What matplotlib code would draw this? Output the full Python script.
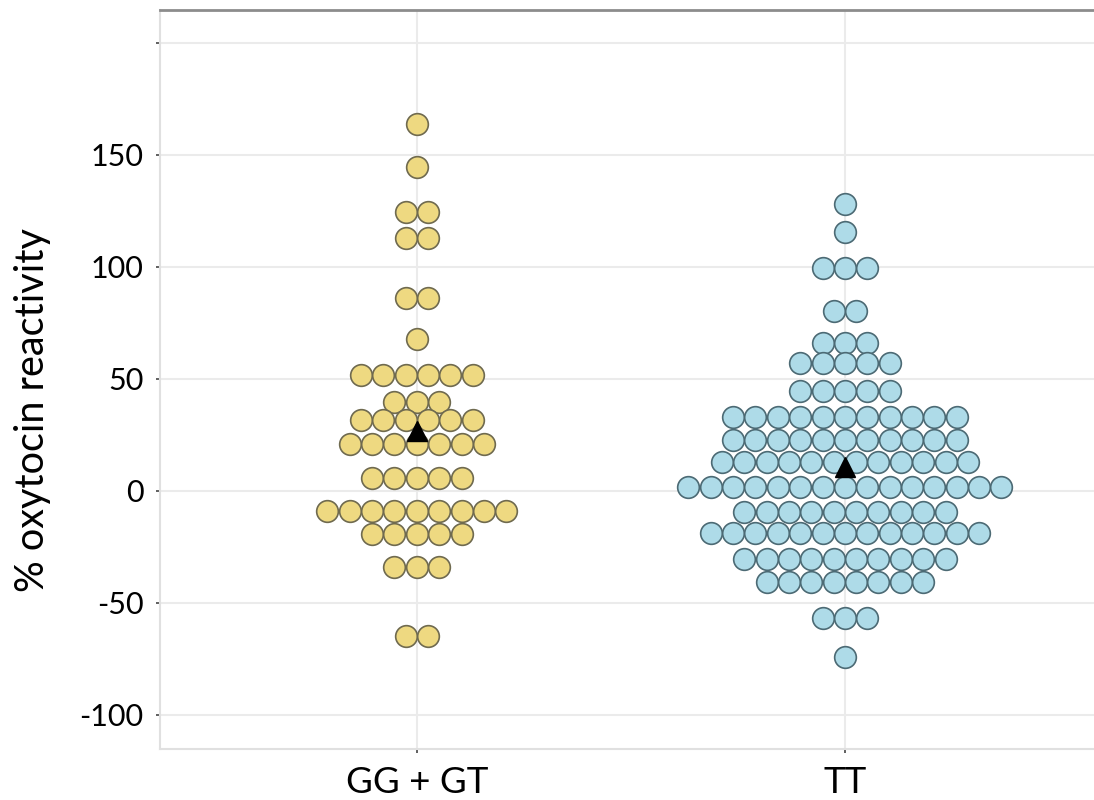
import matplotlib
matplotlib.use("Agg")
import matplotlib.pyplot as plt
import numpy as np

# data: row values and number of dots per row
groups = ["GG + GT", "TT"]
gg_vals = [163.7, 144.8, 124.7, 113.0, 86.0, 67.7, 51.8, 39.9, 31.7, 21.0, 5.7, -8.8, -19.3, -33.8, -64.7]
gg_counts = [1, 1, 2, 2, 2, 1, 6, 3, 6, 7, 5, 9, 5, 3, 2]
tt_vals = [128.0, 115.8, 99.7, 80.4, 65.9, 57.3, 44.8, 32.9, 22.8, 13.1, 1.6, -9.2, -18.9, -30.5, -40.5, -56.8, -74.0]
tt_counts = [1, 1, 3, 2, 3, 5, 5, 11, 11, 12, 15, 10, 13, 10, 8, 3, 1]
means = [26.6, 10.5]

yticks = [-100, -50, 0, 50, 100, 150, 200]
ytick_labels = ["-100", "-50", "0", "50", "100", "150", ""]

fills = ["#eed981", "#aedbe8"]
edges = ["#6f6a4f", "#4c6a74"]

plt.rcParams['font.family'] = ['Lato', 'DejaVu Sans']

fig = plt.figure(figsize=(10.94, 8), dpi=100)
ax = fig.add_axes([160 / 1094, 1 - 749 / 800, 1 - 160 / 1094, (749 - 10) / 800])
ax.set_xlim(0.4, 2.582)
ax.set_ylim(-115.2, 214.7)

# dot size in points, and the matching horizontal step in data units
dot_pt = 15.6
ax_w_px = ax.get_position().width * fig.get_figwidth() * fig.dpi
px_per_unit = ax_w_px / (ax.get_xlim()[1] - ax.get_xlim()[0])
step = (dot_pt + 0.5) * fig.dpi / 72 / px_per_unit

for i, (vals, counts) in enumerate([(gg_vals, gg_counts), (tt_vals, tt_counts)]):
    xc = i + 1
    xs, ys = [], []
    for v, n in zip(vals, counts):
        offs = (np.arange(n) - (n - 1) / 2) * step
        xs.extend(xc + offs)
        ys.extend([v] * n)
    ax.plot(xs, ys, 'o', ms=dot_pt, mfc=fills[i], mec=edges[i], mew=1.2,
            zorder=3, clip_on=False)
    ax.plot([xc], [means[i]], '^', ms=15, color='black', zorder=4)

ax.set_xticks([1, 2])
ax.set_xticklabels(groups, fontsize=26.5)
ax.set_yticks(yticks)
ax.set_yticklabels(ytick_labels, fontsize=22)
ax.set_ylabel("% oxytocin reactivity", fontsize=28.5)
ax.yaxis.set_label_coords(-0.117, 0.459)

ax.grid(True, color="#ebebeb", linewidth=1.5, zorder=0)
ax.set_axisbelow(True)
ax.tick_params(axis='both', length=3, width=1.2, color="#444444")
ax.tick_params(axis='y', pad=9)
ax.tick_params(axis='x', pad=9)

for side in ['left', 'bottom']:
    ax.spines[side].set_color("#e0e0e0")
    ax.spines[side].set_linewidth(1.5)
ax.spines['top'].set_color("#8c8c8c")
ax.spines['top'].set_linewidth(2)
ax.spines['right'].set_visible(False)

fig.savefig("out.png", dpi=100)
